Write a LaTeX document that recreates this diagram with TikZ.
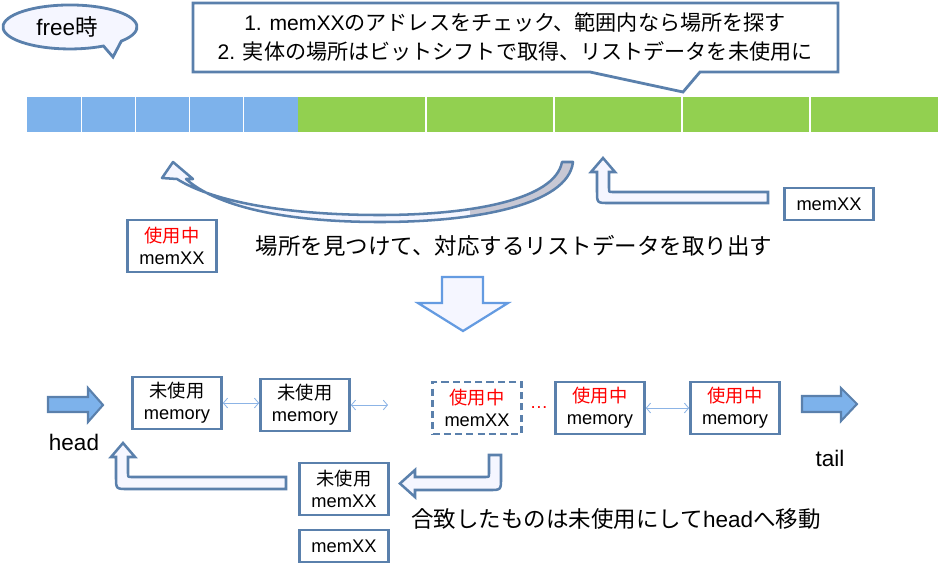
\documentclass[tikz,border=0pt]{standalone}
\usepackage{fontspec}
\setmainfont{Liberation Sans}
\newfontfamily\jp{Noto Sans CJK JP}
\usetikzlibrary{arrows.meta}

\definecolor{edgeblue}{RGB}{90,128,172}
\definecolor{lavender}{RGB}{245,246,255}
\definecolor{cellblue}{RGB}{125,178,235}
\definecolor{cellgreen}{RGB}{146,208,80}
\definecolor{linkblue}{RGB}{140,180,230}
\definecolor{bandgrey}{RGB}{200,200,212}
\definecolor{downblue}{RGB}{100,155,225}

\newcommand\bigfont{\fontsize{16}{19}\selectfont}
\newcommand\notefont{\fontsize{15}{21}\selectfont}
\newcommand\boxfont{\fontsize{13}{15.5}\selectfont}
\newcommand\ja[1]{{\jp #1}}

\tikzset{
  membox/.style={draw=edgeblue, line width=2pt, fill=white, minimum width=2.22cm,
    minimum height=1.3cm, inner sep=1pt, align=center, font=\boxfont},
  tagbox/.style={membox, minimum height=0.8cm},
  blockarrow/.style={draw=edgeblue, line width=1.8pt, fill=lavender},
  pointer/.style={draw=edgeblue, line width=1.5pt, fill=cellblue},
  link/.style={draw=linkblue, line width=0.6pt,
    {Straight Barb[length=3pt,width=7pt]}-{Straight Barb[length=3pt,width=7pt]}},
  bigtext/.style={font=\bigfont, inner sep=0pt},
}

\def\swoop{(562,162) .. controls (555,200) and (470,215) .. (380,215)
  .. controls (280,215) and (210,200) .. (177,179) -- (162,178) -- (173,162)
  -- (193,179) -- (186,179) .. controls (215,205) and (280,222) .. (380,222)
  .. controls (475,222) and (568,205) .. (573,162) -- cycle}

\begin{document}
\begin{tikzpicture}[x=0.025cm, y=-0.025cm]
    \useasboundingbox (0,0) rectangle (940,568);

    % free callout
    \filldraw[draw=edgeblue, fill=lavender, line width=2pt]
      (121.3,41.1) arc[start angle=40, end angle=-300, x radius=67, y radius=22] -- (113,57) -- cycle;
    \node[bigtext] (freetime) at (67,27) {free\ja{時}};

    % Note callout
    \filldraw[draw=edgeblue, fill=white, line width=2pt]
      (193,3) -- (838,3) -- (838,72) -- (700,72) -- (683,92) -- (590,72) -- (193,72) -- cycle;
    \node[align=center, font=\notefont] (notetext) at (515,37)
      {1. memXX\ja{のアドレスをチェック、範囲内なら場所を探す}\\
       2. \ja{実体の場所はビットシフトで取得、リストデータを未使用に}};

    % Memory bar
    \foreach \i in {0,...,4} {
      \fill[cellblue] ({27+54.2*\i},97) rectangle ({27+54.2*(\i+1)},132);
      \fill[cellgreen] ({298+128*\i},97) rectangle ({298+128*(\i+1)},132);
    }
    \foreach \x in {81.2,135.4,189.6,243.8,426,554,682,810}
      \draw[white, line width=0.8pt] (\x,97) -- (\x,132);

    % Curved arrow
    \fill[lavender] \swoop;
    \begin{scope}
      \clip \swoop;
      \fill[bandgrey] (470,150) rectangle (600,230);
    \end{scope}
    \draw[edgeblue, line width=1.8pt, line join=round] \swoop;

    % memXX into the bar
    \filldraw[blockarrow] (768,192) -- (613,192) .. controls (609,192) and (609,192) .. (609,188)
      -- (609,172) -- (615,172) -- (603,158) -- (591,172) -- (597,172) -- (597,191)
      .. controls (597,203) and (597,203) .. (609,203) -- (768,203) -- cycle;
    \node[tagbox] (newxx) at (829,204) {memXX};
    \node[membox] (usedxx) at (172,246) {\textcolor{red}{\ja{使用中}}\\memXX};
    \node[bigtext] (findtext) at (514,246) {\ja{場所を見つけて、対応するリストデータを取り出す}};

    % Down arrow
    \filldraw[draw=downblue, fill=lavender, line width=1.6pt]
      (442,277) -- (483,277) -- (483,303) -- (508,303) -- (463,331) -- (418,303) -- (442,303) -- cycle;

    % List
    \filldraw[pointer] (48,397) -- (88,397) -- (88,388) -- (103,405) -- (88,422) -- (88,412) -- (48,412) -- cycle;
    \node[bigtext] (headtext) at (74,442) {head};
    \node[membox] (free1) at (177,403) {\ja{未使用}\\memory};
    \node[membox] (free2) at (305,405) {\ja{未使用}\\memory};
    \coordinate (free2next) at (388,405);
    \node[membox, dash pattern=on 5pt off 3pt] (hit) at (477,408) {\textcolor{red}{\ja{使用中}}\\memXX};
    \node[font=\boxfont, text=red, inner sep=0pt] (dots) at (539,408) {\dots};
    \node[membox] (used1) at (600,408) {\textcolor{red}{\ja{使用中}}\\memory};
    \node[membox] (used2) at (735,408) {\textcolor{red}{\ja{使用中}}\\memory};
    \filldraw[pointer] (802,396) -- (841,396) -- (841,388) -- (857,404) -- (841,421) -- (841,412) -- (802,412) -- cycle;
    \node[bigtext] (tailtext) at (830,458) {tail};

    \draw[link] (free1.east) -- (free1.east -| free2.west);
    \draw[link] (free2.east) -- (free2next);
    \draw[link] (used1.east) -- (used2.west);

    % Move to head
    \filldraw[blockarrow] (489,455) -- (501,455) -- (501,478) .. controls (501,490) and (501,490) .. (489,490)
      -- (415,490) -- (415,497) -- (400,483.5) -- (415,470) -- (415,477) -- (485,477)
      .. controls (489,477) and (489,477) .. (489,473) -- cycle;
    \node[membox] (movedxx) at (344,489) {\ja{未使用}\\memXX};
    \node[tagbox] (oldxx) at (344,546) {memXX};
    \filldraw[blockarrow] (286,477) -- (132,477) .. controls (128,477) and (128,477) .. (128,473)
      -- (128,457) -- (135,457) -- (123,443) -- (111,457) -- (116,457) -- (116,477)
      .. controls (116,489) and (116,489) .. (128,489) -- (286,489) -- cycle;
    \node[bigtext] (movetext) at (616,519) {\ja{合致したものは未使用にして}head\ja{へ移動}};
\end{tikzpicture}
\end{document}
